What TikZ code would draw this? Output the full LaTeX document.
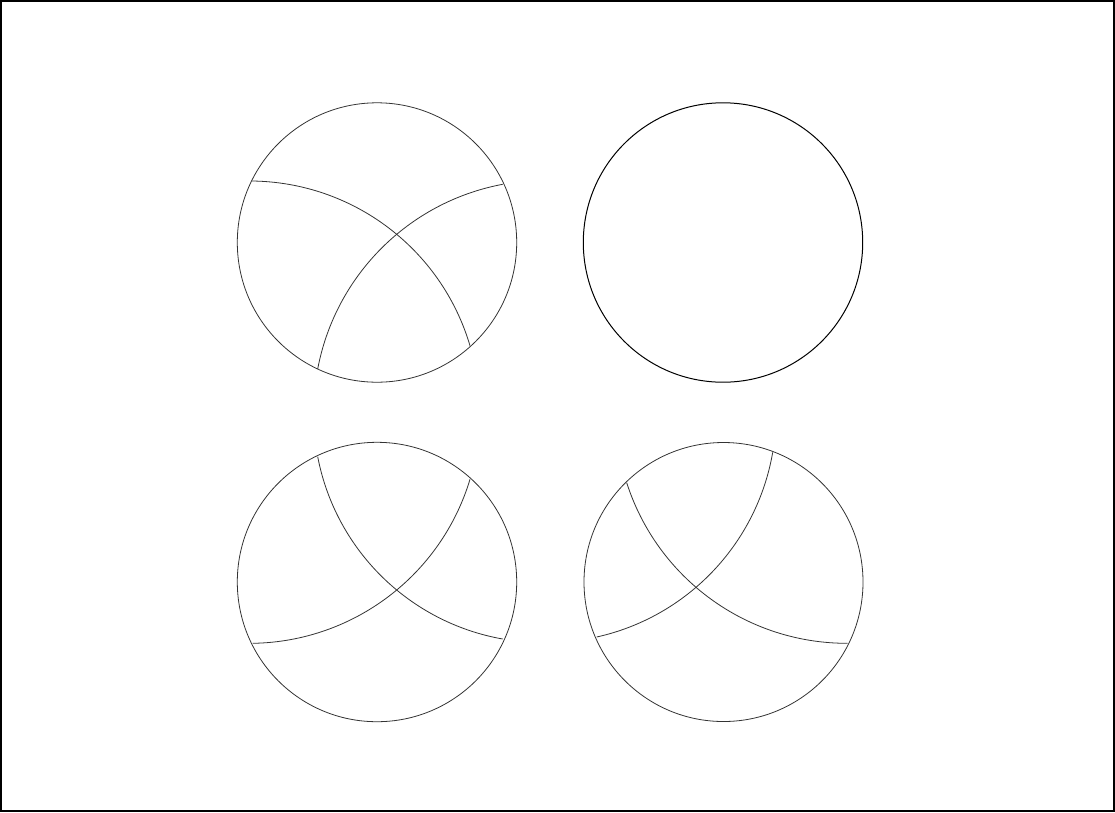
\documentclass[tikz,border=0pt]{standalone}
\usepackage{tikz}
\tikzset{
  arcline/.style={line width=0.8pt, draw=black!80},
  disc/.style={line width=0.8pt, draw=black!80},
  frameline/.style={line width=2pt, draw=black}
}
% circular arc from A through B to C (pixel coordinates)
\newcommand\arcthru[6]{%
  \pgfmathsetmacro\qAx{(#1-#3)/100}%
  \pgfmathsetmacro\qAy{(#2-#4)/100}%
  \pgfmathsetmacro\qCx{(#5-#3)/100}%
  \pgfmathsetmacro\qCy{(#6-#4)/100}%
  \pgfmathsetmacro\qD{2*(\qAx*\qCy-\qCx*\qAy)}%
  \pgfmathsetmacro\qAA{\qAx*\qAx+\qAy*\qAy}%
  \pgfmathsetmacro\qCC{\qCx*\qCx+\qCy*\qCy}%
  \pgfmathsetmacro\qUx{(\qAA*\qCy-\qCC*\qAy)/\qD}%
  \pgfmathsetmacro\qUy{(\qCC*\qAx-\qAA*\qCx)/\qD}%
  \pgfmathsetmacro\qR{100*sqrt((\qAx-\qUx)^2+(\qAy-\qUy)^2)}%
  \pgfmathsetmacro\qS{atan2(\qAy-\qUy,\qAx-\qUx)}%
  \pgfmathsetmacro\qE{atan2(\qCy-\qUy,\qCx-\qUx)}%
  \pgfmathsetmacro\qDa{mod(\qE-\qS+540,360)-180}%
  \draw[arcline] (#1,#2) arc[start angle=\qS, delta angle=\qDa, radius=\qR];%
}
\begin{document}
\begin{tikzpicture}[x=1pt,y=-1pt]
\useasboundingbox (0,0) rectangle (1115,812);
\draw[frameline] (1,1) rectangle (1114,811);
% circles
\node[draw=none] (c1) at (377,242.5) {};
\draw[disc] (c1.center) circle[radius=139.7];
\node[draw=none] (c2) at (723,242.5) {};
\draw[disc, draw=black, line width=1pt] (c2.center) circle[radius=139.7];
\node[draw=none] (c3) at (377,582) {};
\draw[disc] (c3.center) circle[radius=139.7];
\node[draw=none] (c4) at (723.5,582) {};
\draw[disc] (c4.center) circle[radius=139.5];
% arcs in circle 1
\arcthru{251.7}{181}{396.7}{234.3}{470}{345.7}
\arcthru{502.7}{184.3}{396.7}{234.3}{317.7}{369}
% arcs in circle 3
\arcthru{317.7}{456.7}{396.7}{590}{502.7}{639}
\arcthru{470}{479.3}{396.7}{590}{252.7}{643.3}
% arcs in circle 4
\arcthru{626.7}{482.7}{696}{587.3}{847.7}{643.3}
\arcthru{772.7}{452.3}{696}{587.3}{596.7}{637}
\end{tikzpicture}
\end{document}
